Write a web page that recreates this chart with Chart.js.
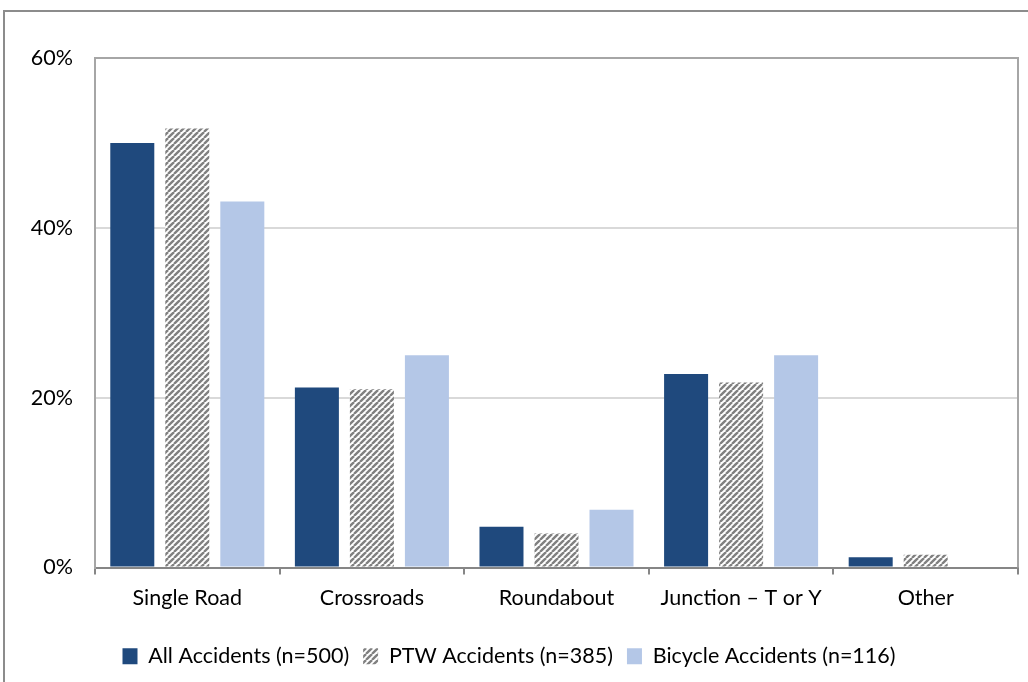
<!DOCTYPE html>
<html>
<head>
<meta charset="utf-8">
<script src="https://cdn.jsdelivr.net/npm/chart.js@4"></script>
<style>
  html, body { margin: 0; padding: 0; background: #fff; }
  #frame { position: absolute; left: 3px; top: 10px; width: 1100px; height: 760px; border: 2px solid #8c8c8c; }
  #wrap { position: absolute; left: 0; top: 0; width: 1028px; height: 682px; }
</style>
</head>
<body>
<div id="frame"></div>
<div id="wrap"><canvas id="chart" width="1028" height="682"></canvas></div>
<script>
// data (percent of accidents)
var categories = ["Single Road", "Crossroads", "Roundabout", "Junction \u2013 T or Y", "Other"];
var seriesNames = ["All Accidents (n=500)", "PTW Accidents (n=385)", "Bicycle Accidents (n=116)"];
var allAccidents = [50.0, 21.2, 4.8, 22.8, 1.2];
var ptwAccidents = [51.7, 21.0, 4.0, 21.8, 1.5];
var bicycleAccidents = [43.1, 25.0, 6.8, 25.0, 0];
var yTicks = [0, 20, 40, 60];

window.onload = function () {
  var ctx = document.getElementById("chart").getContext("2d");

  // diagonal hatch for the PTW series
  var tile = document.createElement("canvas");
  tile.width = 6; tile.height = 6;
  var t = tile.getContext("2d");
  t.fillStyle = "#ffffff";
  t.fillRect(0, 0, 6, 6);
  t.strokeStyle = "#808080";
  t.lineWidth = 2.4;
  [-6, 0, 6].forEach(function (o) {
    t.beginPath();
    t.moveTo(o, 6);
    t.lineTo(o + 6, 0);
    t.stroke();
  });
  var hatch = ctx.createPattern(tile, "repeat");

  var plotFrame = {
    id: "plotFrame",
    afterDraw: function (chart) {
      var a = chart.chartArea, c = chart.ctx;
      c.save();
      c.strokeStyle = "#a6a6a6";
      c.lineWidth = 2;
      c.beginPath();
      c.moveTo(a.left, a.bottom);
      c.lineTo(a.left, a.top);
      c.lineTo(a.right, a.top);
      c.lineTo(a.right, a.bottom);
      c.stroke();
      c.restore();
    }
  };

  Chart.defaults.font.family = "Lato, 'Open Sans', sans-serif";
  Chart.defaults.color = "#1a1a1a";

  new Chart(ctx, {
    type: "bar",
    data: {
      labels: categories,
      datasets: [
        { label: seriesNames[0], data: allAccidents, backgroundColor: "#1f497d" },
        { label: seriesNames[1], data: ptwAccidents, backgroundColor: hatch },
        { label: seriesNames[2], data: bicycleAccidents, backgroundColor: "#b4c7e7" }
      ]
    },
    options: {
      responsive: false,
      animation: false,
      events: [],
      layout: { padding: { left: 0, top: 58, right: 10, bottom: 5 } },
      datasets: { bar: { categoryPercentage: 0.894, barPercentage: 0.8 } },
      plugins: {
        tooltip: { enabled: false },
        legend: {
          position: "bottom",
          labels: { font: { size: 21.5 }, color: "#000", boxWidth: 15, boxHeight: 16, padding: 14 }
        }
      },
      scales: {
        x: {
          afterFit: function (s) { s.height = 64; },
          border: { color: "#868686", width: 2 },
          grid: { drawOnChartArea: false, color: "#868686", lineWidth: 2, tickLength: 7 },
          ticks: { font: { size: 21.5 }, color: "#000", padding: 11 }
        },
        y: {
          min: 0,
          max: 60,
          afterFit: function (s) { s.width = 95; },
          afterBuildTicks: function (s) { s.ticks = yTicks.map(function (v) { return { value: v }; }); },
          border: { color: "#a6a6a6", width: 2 },
          grid: { color: "#d9d9d9", lineWidth: 2, drawTicks: false },
          ticks: {
            font: { size: 21.5 }, color: "#000", padding: 22,
            callback: function (v) { return v + "%"; }
          }
        }
      }
    },
    plugins: [plotFrame]
  });
};
</script>
</body>
</html>
